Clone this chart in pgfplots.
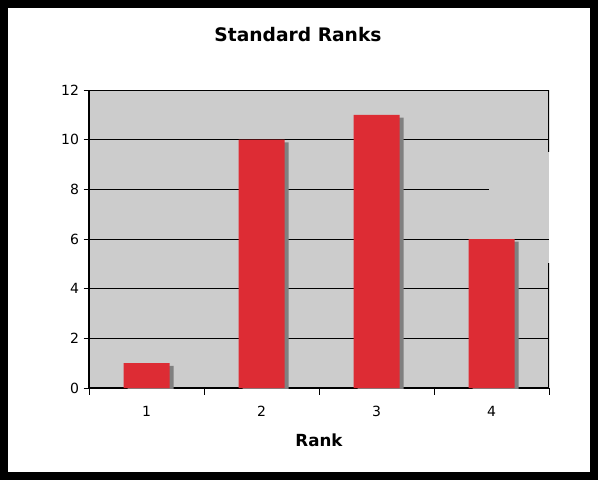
\documentclass[border=0pt]{standalone}
\usepackage{pgfplots}
\pgfplotsset{compat=1.18}
\usepackage{fontspec}
\setmainfont{DejaVu Sans}
\definecolor{barred}{RGB}{221,44,52}
\definecolor{plotgray}{RGB}{204,204,204}
\definecolor{shade}{RGB}{128,128,128}
\begin{document}
\begin{tikzpicture}[x=1pt,y=1pt]
% frame: 1px = 0.75pt, axis box lower-left at (0,0)
\fill[black] (-66.75,-69) rectangle (381.75,291);
\fill[white] (-60.75,-63) rectangle (375.75,285);
\node[font=\fontsize{14}{16}\selectfont\bfseries] at (156.75,264.75) {Standard Ranks};
\begin{axis}[
    scale only axis,
    width=345pt, height=223.5pt,
    xmin=0.5, xmax=4.5,
    ymin=0, ymax=12,
    axis background/.style={fill=plotgray},
    axis x line*=bottom, axis y line*=left,
    axis line style={black, line width=0.8pt},
    xtick={1,2,3,4},
    major x tick style={draw=none},
    minor xtick={0.5,1.5,2.5,3.5,4.5},
    minor x tick style={black, line width=0.75pt},
    minor tick length=5pt,
    ytick={0,2,...,12},
    major tick length=4pt,
    tick align=outside,
    ytick style={black, line width=0.75pt},
    /pgf/number format/assume math mode=true,
    tick label style={font=\fontsize{10.5}{12}\selectfont},
    xticklabel style={yshift=-6pt},
    xlabel={Rank},
    xlabel style={font=\fontsize{12.5}{14}\selectfont\bfseries, yshift=-6pt},
]
% grid lines
\addplot[black, line width=0.7pt, forget plot] coordinates {(0.5,2)(4.5,2)};
\addplot[black, line width=0.7pt, forget plot] coordinates {(0.5,4)(4.5,4)};
\addplot[black, line width=0.7pt, forget plot] coordinates {(0.5,6)(4.5,6)};
\addplot[black, line width=0.7pt, forget plot] coordinates {(0.5,8)(3.98,8)};
\addplot[black, line width=0.7pt, forget plot] coordinates {(0.5,10)(4.5,10)};
% top and right plot borders
\addplot[shade, line width=1.5pt, forget plot] coordinates {(0.5,12)(4.5,12)};
\addplot[shade, line width=1.5pt, forget plot] coordinates {(4.5,12)(4.5,9.5)};
\addplot[shade, line width=1.5pt, forget plot] coordinates {(4.5,5.05)(4.5,0)};
% shadows
\addplot[ybar, bar width=34.5pt, fill=shade, draw=none, xshift=3pt, yshift=-2pt]
    coordinates {(1,1)(2,10)(3,11)(4,6)};
% bars
\addplot[ybar, bar width=34.5pt, fill=barred, draw=none]
    coordinates {(1,1)(2,10)(3,11)(4,6)};
\end{axis}
\end{tikzpicture}
\end{document}
